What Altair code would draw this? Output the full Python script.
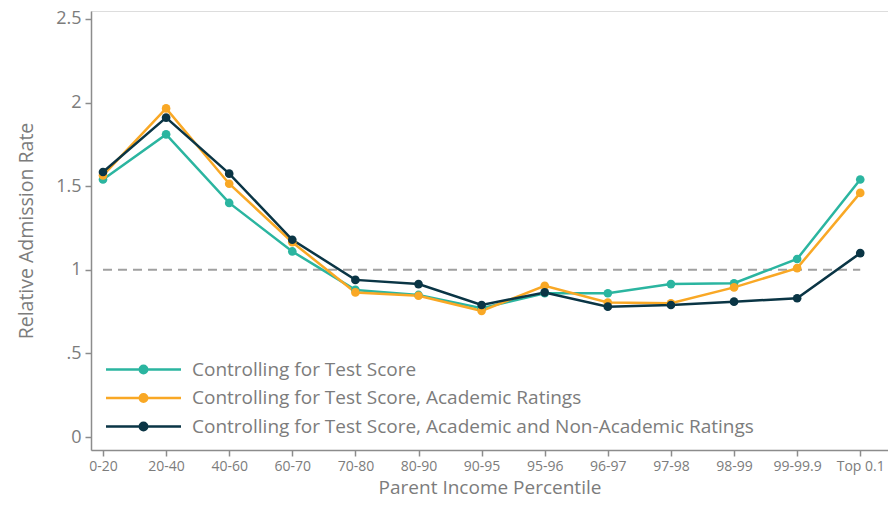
import altair as alt
import pandas as pd

categories = ["0-20", "20-40", "40-60", "60-70", "70-80", "80-90", "90-95",
              "95-96", "96-97", "97-98", "98-99", "99-99.9", "Top 0.1"]
series_names = [
    "Controlling for Test Score",
    "Controlling for Test Score, Academic Ratings",
    "Controlling for Test Score, Academic and Non-Academic Ratings",
]
test_score = [1.54, 1.81, 1.40, 1.11, 0.88, 0.85, 0.77, 0.86, 0.86, 0.915, 0.92, 1.065, 1.54]
academic = [1.565, 1.965, 1.515, 1.165, 0.865, 0.845, 0.755, 0.905, 0.805, 0.80, 0.895, 1.01, 1.46]
non_academic = [1.585, 1.91, 1.575, 1.18, 0.94, 0.915, 0.79, 0.865, 0.78, 0.79, 0.81, 0.83, 1.10]
colors = ["#2bb5a0", "#f9a825", "#0a3545"]
reference_level = 1.0

rows = []
for name, vals in zip(series_names, [test_score, academic, non_academic]):
    for i, (c, v) in enumerate(zip(categories, vals)):
        rows.append({"series": name, "idx": i, "cat": c, "value": v})
df = pd.DataFrame(rows)
ref_df = pd.DataFrame([{"x": 0, "x2": len(categories) - 1, "y": reference_level}])

label_expr = "[" + ",".join("'" + c + "'" for c in categories) + "][round(datum.value)]"

FONT = "Open Sans"
GRAY = "#7c7c7c"

x_scale = alt.Scale(domain=[-0.19, 12.44], nice=False, zero=False)
y_scale = alt.Scale(domain=[-0.077, 2.5475], nice=False, zero=False)

x_axis = alt.Axis(
    title="Parent Income Percentile", values=list(range(len(categories))),
    labelExpr=label_expr, grid=False, labelFontSize=14, titleFontSize=19,
    titleFontWeight="normal", labelColor=GRAY, titleColor=GRAY, domainColor="#8c8c8c",
    tickColor="#8c8c8c", domainWidth=1.5, tickWidth=1.5, tickSize=6, labelPadding=3,
    titlePadding=5, labelFont=FONT, titleFont=FONT,
)
y_axis = alt.Axis(
    title="Relative Admission Rate", values=[0, 0.5, 1, 1.5, 2, 2.5],
    labelExpr="datum.value == 0.5 ? '.5' : format(datum.value, '~g')", grid=False,
    labelFontSize=18, titleFontSize=19.5, titleFontWeight="normal", labelColor=GRAY,
    titleColor=GRAY, domainColor="#8c8c8c", tickColor="#8c8c8c", domainWidth=1.5,
    tickWidth=1.5, tickSize=6, labelPadding=4, titlePadding=19, labelFont=FONT, titleFont=FONT,
)

symbol_path = ("M-3.75,0L3.75,0M-0.37,0A0.37,0.37,0,1,1,0.37,0A0.37,0.37,0,1,1,-0.37,0Z")

legend = alt.Legend(
    title=None, orient="none", legendX=41, legendY=347, symbolType=symbol_path,
    symbolSize=400, symbolStrokeWidth=2.5, labelFontSize=19, labelColor=GRAY,
    labelFont=FONT, rowPadding=6.5, labelOffset=37, labelLimit=700, symbolOpacity=1,
)
cscale = alt.Scale(domain=series_names, range=colors)

ref = alt.Chart(ref_df).mark_rule(color="#a0a0a0", strokeWidth=2, strokeDash=[9, 6]).encode(
    x=alt.X("x:Q", scale=x_scale, axis=x_axis), x2="x2:Q",
    y=alt.Y("y:Q", scale=y_scale, axis=y_axis),
)

lines = alt.Chart(df).mark_line(strokeWidth=2.5).encode(
    x=alt.X("idx:Q", scale=x_scale, axis=x_axis),
    y=alt.Y("value:Q", scale=y_scale, axis=y_axis),
    stroke=alt.Stroke("series:N", scale=cscale, sort=series_names, legend=legend),
    order="idx:Q",
)
points = alt.Chart(df).mark_point(size=75, opacity=1, filled=True, strokeWidth=0).encode(
    x=alt.X("idx:Q", scale=x_scale, axis=x_axis),
    y=alt.Y("value:Q", scale=y_scale, axis=y_axis),
    fill=alt.Fill("series:N", scale=cscale, sort=series_names, legend=legend),
)

chart = alt.layer(ref, lines, points).properties(
    width=880, height=491,
    padding={"left": 8, "right": 0, "top": 2, "bottom": 2},
    autosize=alt.AutoSizeParams(type="fit", contains="padding"),
).configure_view(stroke=None).configure(background="white")

chart.save("out.html", embed_options={"renderer": "svg", "actions": False})
